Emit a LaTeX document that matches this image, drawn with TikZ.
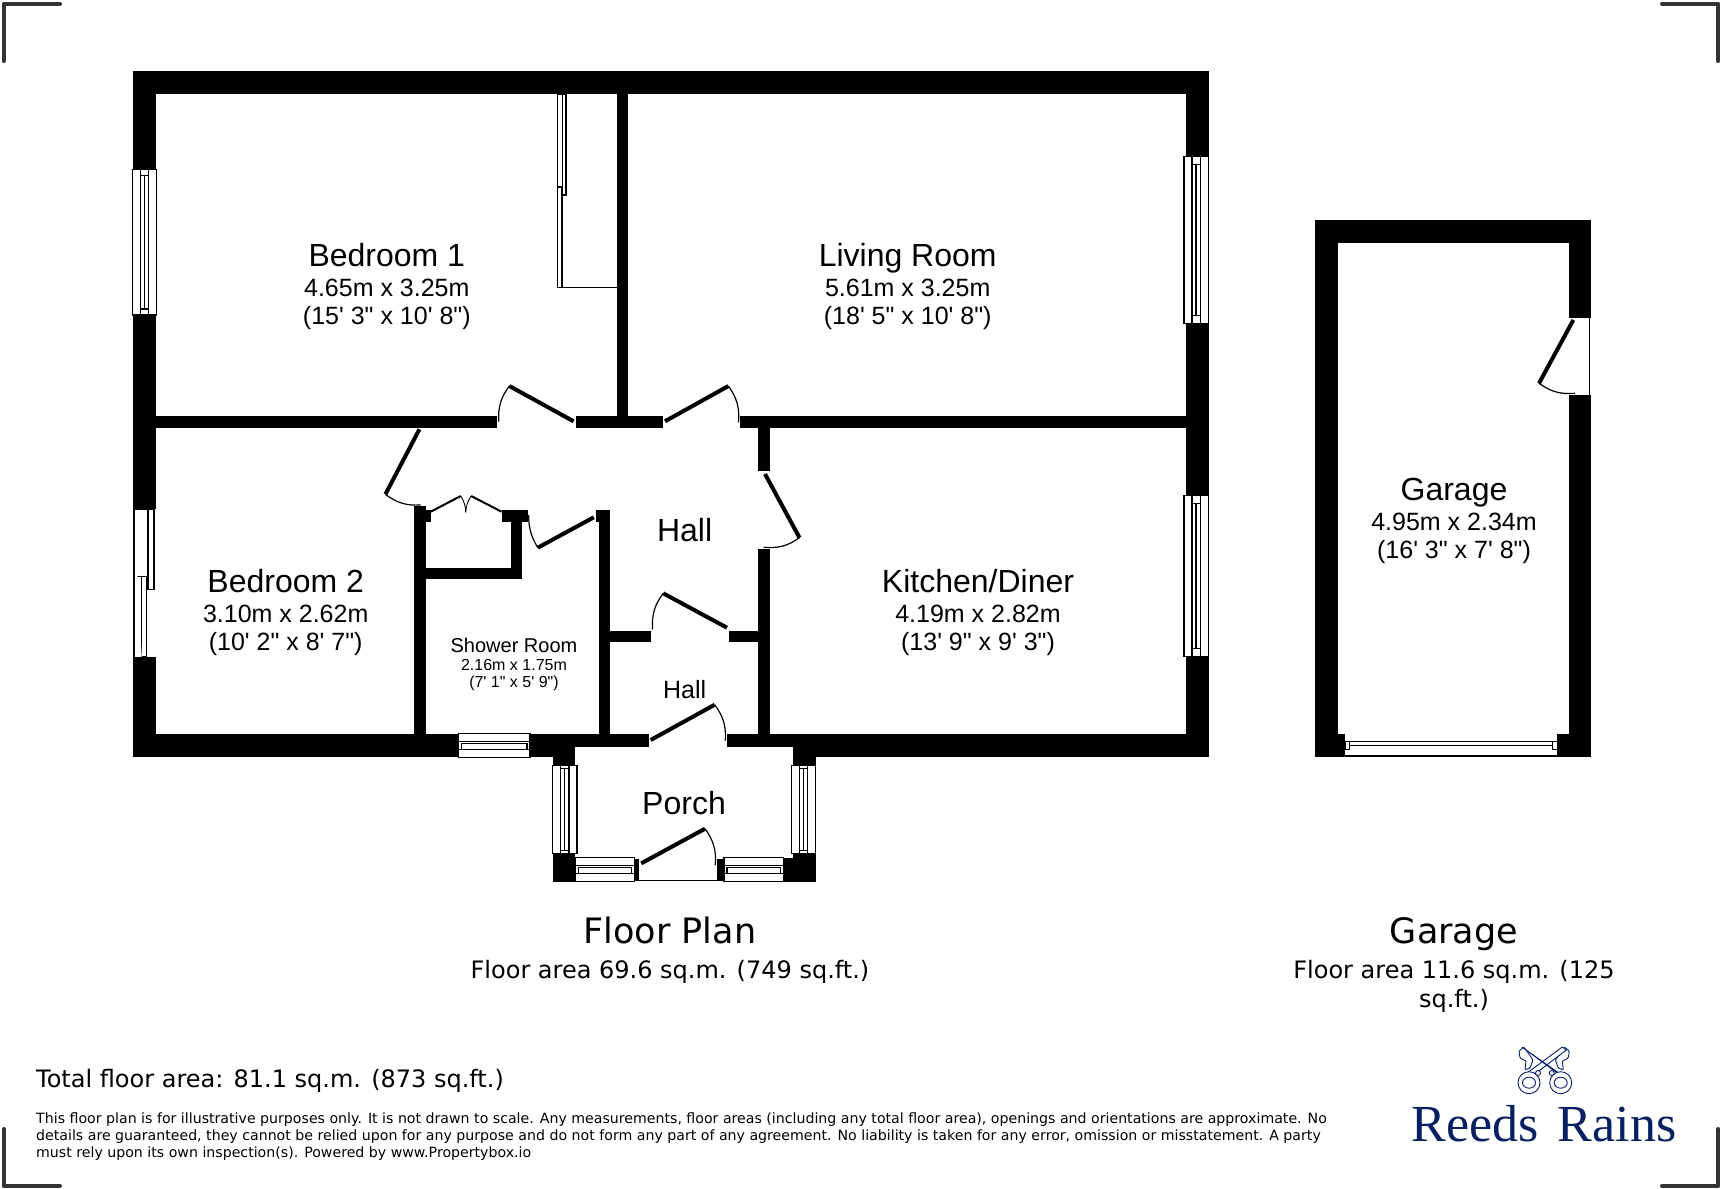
\documentclass[tikz,border=0pt]{standalone}
\usepackage{fontspec}
\setmainfont{Liberation Sans}[Ligatures=TeXOff]
\newfontfamily\notefont{DejaVu Sans}
\newfontfamily\brandfont{Liberation Serif}
\definecolor{brandnavy}{RGB}{6,32,98}
\definecolor{markgrey}{RGB}{51,51,51}
\begin{document}
\begin{tikzpicture}
[x=1pt,y=-1pt,
  walldecorate/.style={fill=black},%
  leafdecorate/.style={line width=4pt},%
  swingdecorate/.style={line width=1.2pt},%
  panedecorate/.style={draw=black,fill=white,line width=1.1pt},%
  markdecorate/.style={draw=markgrey,line width=4pt,line cap=round,line join=round},%
  keydecorate/.style={draw=brandnavy,fill=white,line width=0.9pt},%
  textdecorate/.style={inner sep=0pt,anchor=base},%
  titledecorate/.style={textdecorate,font=\fontsize{32}{32}\selectfont},%
  sizedecorate/.style={textdecorate,font=\fontsize{25}{25}\selectfont},%
  headdecorate/.style={textdecorate,font=\notefont\fontsize{35}{35}\selectfont},%
  areadecorate/.style={textdecorate,font=\notefont\fontsize{24}{24}\selectfont}]
\useasboundingbox (0,0) rectangle (1722,1189);
%% corner marks
\foreach \xa/\ya/\xb/\yb/\xc/\yc in {3.6/61/3.6/3.6/60/3.6, 1662/3.6/1718.3/3.6/1718.3/61,
  3.6/1129/3.6/1186/60/1186, 1662/1186/1718.3/1186/1718.3/1129}
{
  \draw[markdecorate] (\xa,\ya) -- (\xb,\yb) -- (\xc,\yc);
}
%% walls
\foreach \xa/\ya/\xb/\yb in {133/71.4/1208.5/94, 133/71.4/155.8/170, 133/315/155.8/509.3,
  133/657.3/155.8/757.3, 133/734.3/458.3/757.3, 530/734.3/649.3/746.5,
  530/746.5/575.3/757.3, 552.7/757/575.3/765.3, 727.3/734.3/1208.5/746.5,
  792.7/746/1208.5/757.3, 792.7/757/815.7/765.3, 1186/94/1208.5/157,
  1186/323.3/1208.5/496.7, 1186/656.7/1208.5/757.3,
  155.8/416/497.4/428.3, 575.5/416/662.7/428.3, 740/416/1186/428.3,
  617.2/94/628.3/416, 758/428/769.7/471, 758/549.3/769.7/734.3,
  413.8/506/425.8/734.3, 425.8/510/430.8/521.7, 501.5/510/527.7/521.7,
  510.7/521.7/521.7/579.3, 425.8/567.7/521.7/579.3, 598.9/510/610.4/734.3,
  595.7/510/598.9/521.7, 610.4/630.7/650.8/642.3, 728.8/630.7/758/642.3,
  552.7/853.3/575.3/881.7, 634.3/858.7/639.3/881, 716.7/858.7/724/881,
  783.3/858/815.7/881.7, 792.7/853.3/815.7/858,
  1315/220/1591/243.3, 1315/220/1337.7/756.7, 1568.7/220/1591/317.7,
  1568.7/395.3/1591/756.7, 1337.7/734.3/1345/756.7, 1557.3/734.3/1568.7/756.7}
{
  \path[walldecorate] (\xa,\ya) rectangle (\xb,\yb);
}
%% windows across a wall
\foreach \xa/\ya/\xb/\yb in {458.3/733.3/530/757.3, 575.3/857.3/634.3/881.7,
  724/857.3/783.3/881.7}
{
  \draw[panedecorate] (\xa,\ya) rectangle (\xb,\yb);
  \draw[panedecorate] (\xa,\ya+8) -- (\xb,\ya+8) (\xa,\yb-8) -- (\xb,\yb-8);
  \draw[panedecorate] (\xa+3,\ya+10) rectangle (\xb-3,\yb-8);
}
\foreach \xa/\ya/\xb/\yb/\capgap in {132.7/169.3/156.7/315/6, 1184/156.7/1208.3/323.3/8,
  1184/495.7/1208.3/656.7/8, 552.7/765.3/577/853.3/3, 791.7/765.3/815.7/853.3/3}
{
  \draw[panedecorate] (\xa,\ya) rectangle (\xb,\yb);
  \draw[panedecorate] (\xa+8,\ya) -- (\xa+8,\yb) (\xb-8,\ya) -- (\xb-8,\yb);
  \draw[panedecorate] (\xa+8,\ya+\capgap) rectangle (\xb-8,\yb-\capgap);
  \draw[panedecorate] (\xa+12,\ya+\capgap) -- (\xa+12,\yb-\capgap);
}
%% sliding panels
\foreach \xa/\ya/\xb/\yb in {134/509.3/148/576.7, 148/509.3/154/589.3, 141.7/576.7/146.7/656.7,
  557.3/94/562.3/186.7, 562.3/94/566/195}
{
  \draw[panedecorate] (\xa,\ya) rectangle (\xb,\yb);
}
\draw[panedecorate] (134,509.3) -- (134,657.3) -- (141.7,657.3);
\draw[panedecorate,line width=1.6pt] (557.3,186.7) rectangle (561.7,287.3);
\draw[panedecorate] (557.3,287.3) -- (617.2,287.3);
%% garage doors
\draw[panedecorate,fill=none] (1345,756) -- (1557.3,756);
\foreach \xa/\ya/\xb/\yb in {1349.7/741.3/1552.7/745.3, 1345/741.3/1349.7/749.3, 1552.7/741.3/1557.3/749.3}
{
  \draw[panedecorate] (\xa,\ya) rectangle (\xb,\yb);
}
\draw[panedecorate] (1568.7,317.7) -- (1589.3,317.7) -- (1589.3,395.3) -- (1568.7,395.3);
\draw[panedecorate] (639.3,880.3) -- (716.7,880.3);
%% doors
\foreach \xa/\ya/\xb/\yb/\xc/\yc/\bendangle in {573.6/421.3/509.3/386/498.8/421.7/-20,
  665/421.3/728.4/386/738.5/422.3/20, 419.4/429.3/385.4/494.3/420.7/505/-20,
  765/474/799.5/537.7/763.7/547.3/20, 593.8/517.3/537.8/547.7/528.6/515/15,
  727/627.7/663.2/593.3/652.6/629.3/-20, 650.7/740/714.7/704.7/725.3/740.7/20,
  641.3/863.3/705/828.7/715.3/865/20, 1573.3/320/1539/383.3/1575/393.3/-20}
{
  \draw[leafdecorate] (\xa,\ya) -- (\xb,\yb);
  \draw[swingdecorate] (\xb,\yb) to[bend left=\bendangle] (\xc,\yc);
}
\foreach \xa/\ya/\xb/\yb/\bendangle in {430.8/511.7/460.7/496/15, 501.5/511.7/471.2/496/-15}
{
  \draw[line width=2pt] (\xa,\ya) -- (\xb,\yb);
  \draw[line width=0.9pt] (\xb,\yb) to[bend left=\bendangle] (465.7,512.3);
}
%% room labels
\foreach \nodename/\x/\y/\title/\metric/\imperial in {bedone/386.8/255/Bedroom 1/4.65m x 3.25m/(15' 3" x 10' 8"),
  living/907.7/255/Living Room/5.61m x 3.25m/(18' 5" x 10' 8"),
  kitchen/978/581/Kitchen\slash Diner/4.19m x 2.82m/(13' 9" x 9' 3"),
  bedtwo/285.7/581/Bedroom 2/3.10m x 2.62m/(10' 2" x 8' 7"),
  garage/1454/489/Garage/4.95m x 2.34m/(16' 3" x 7' 8")}
{
  \node (\nodename) at (\x,\y+11.3) [titledecorate] {\title};
  \node (\nodename size) at (\x,\y+41.8) [sizedecorate] {\metric};
  \node (\nodename feet) at (\x,\y+69) [sizedecorate] {\imperial};
}
\node (hall) at (684.6,541) [titledecorate] {Hall};
\node (lowerhall) at (684.6,698) [sizedecorate] {Hall};
\node (porch) at (684,814.3) [titledecorate] {Porch};
\node (shower) at (514,652) [textdecorate,font=\fontsize{20}{20}\selectfont] {Shower Room};
\node (showersize) at (514,670.6) [textdecorate,font=\fontsize{16}{16}\selectfont] {2.16m x 1.75m};
\node (showerfeet) at (514,687.5) [textdecorate,font=\fontsize{16}{16}\selectfont] {(7' 1" x 5' 9")};
%% floor captions
\node (floorplan) at (670,943) [headdecorate] {Floor Plan};
\node (floorarea) at (670,978) [areadecorate] {Floor area 69.6 sq.m. (749 sq.ft.)};
\node (garageplan) at (1454,943) [headdecorate] {Garage};
\node (garagearea) at (1454,978) [areadecorate] {Floor area 11.6 sq.m. (125};
\node (garageareaend) at (1454,1007.5) [areadecorate] {sq.ft.)};
\node (total) at (36,1087) [areadecorate,anchor=base west] {Total floor area: 81.1 sq.m. (873 sq.ft.)};
\node (notice) at (36,1137) [inner sep=0pt,anchor=west,align=left,font=\notefont\fontsize{14.15}{17}\selectfont] {This floor plan is for illustrative purposes only. It is not drawn to scale. Any measurements, floor areas (including any total floor area), openings and orientations are approximate. No\\details are guaranteed, they cannot be relied upon for any purpose and do not form any part of any agreement. No liability is taken for any error, omission or misstatement. A party\\must rely upon its own inspection(s). Powered by www.Propertybox.io};
%% brand mark
\node (brand) at (1544,1141.7) [textdecorate,text=brandnavy,font=\brandfont\fontsize{52}{52}\selectfont] {Reeds\hspace{0.12em} Rains};
\foreach \xa/\xb/\flip in {1564.3/1529/1, 1524/1560.7/-1}
{
  \draw[keydecorate,rounded corners=1pt] (\xa,1047) -- (\xa+5*\flip,1051) -- (\xa+4*\flip,1058) -- (\xa-2*\flip,1061) -- (\xa-1*\flip,1070) -- (\xa-6*\flip,1068) -- (\xa-9*\flip,1060) -- cycle;
  \draw[keydecorate] (\xa-2,1047) -- (\xa+2,1050) -- (\xb+2,1077) -- (\xb-2,1073) -- cycle;
  \draw[keydecorate] (\xb,1082.7) circle [radius=11];
  \draw[keydecorate] (\xb,1082.7) ellipse [x radius=6.5,y radius=5.5];
  \draw[keydecorate] (\xb+9*\flip,1073) circle [radius=2.5];
}
\end{tikzpicture}
\end{document}
